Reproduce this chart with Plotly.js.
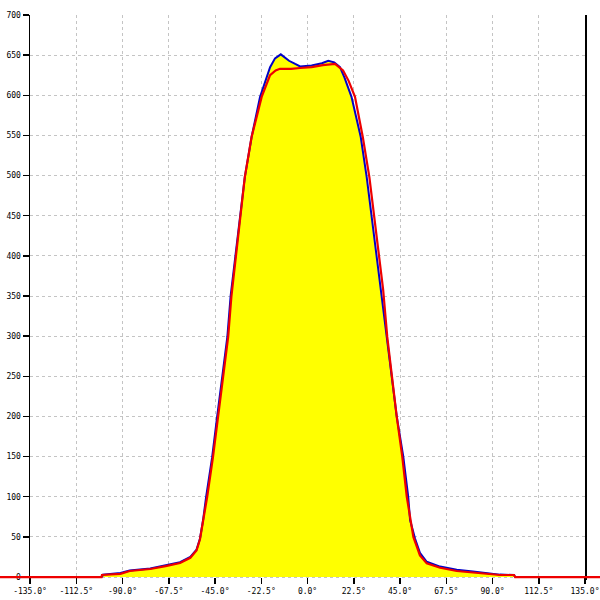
<!DOCTYPE html>
<html>
<head>
<meta charset="utf-8">
<script src="https://cdn.plot.ly/plotly-3.0.1.min.js"></script>
<style>html,body{margin:0;padding:0;background:#fff;}#chart{width:600px;height:600px;}</style>
</head>
<body>
<div id="chart"></div>
<script>
// Measured pattern (blue, filled yellow)
var angleBlue = [-100, -99.5, -91, -86.5, -76.5, -69, -62, -57, -54, -52.3, -50.8, -49.3, -46.4, -44, -41.4, -39, -37.4, -35, -32.8, -30.5, -27.2, -23.1, -18.2, -15.8, -13, -9, -6, -3.6, 2, 7, 10.1, 13, 15.8, 18, 21.4, 25.9, 28.8, 31.2, 33.7, 36, 38.6, 41, 43.4, 46.6, 49, 49.9, 52.3, 54.7, 58, 64.5, 72.6, 80.5, 88.8, 93.6, 100.5, 101];
var powerBlue = [0, 3, 5, 8, 10.5, 14.5, 18.5, 25, 34, 48, 71, 100, 149, 199, 249, 299, 350, 399, 449, 498, 548, 598, 635, 646, 651, 643, 639, 636, 637, 640, 643, 641, 635, 622, 598, 548, 498, 449, 399, 356, 299, 249, 200, 150, 100, 71, 48, 30, 19, 13, 9, 7, 5, 3, 2.5, 0];
// Reference pattern (red)
var angleRed = [-150, -100.2, -100, -91, -86.5, -76.5, -69, -62, -57, -54, -52.3, -50.8, -48.8, -46, -43.6, -41, -38.6, -37, -34.8, -32.7, -30.5, -27.2, -22.3, -18.2, -15.5, -13.4, -8, -3.6, 2, 7.5, 13.4, 17.3, 20, 23.1, 26.9, 30.1, 32.5, 34.9, 36.8, 38.8, 41, 43.4, 46.1, 48.3, 51.5, 54.7, 58, 64.5, 72.6, 80.5, 88.8, 93.6, 100.5, 101, 150];
var powerRed = [0, 0, 2.5, 4, 7.5, 10, 13.5, 17.5, 24, 33, 47, 70, 100, 149, 199, 249, 299, 350, 399, 449, 498, 548, 598, 625, 631, 633, 633, 634, 635, 637.6, 639, 631, 618, 598, 548, 498, 449, 399, 358, 299, 249, 200, 150, 100, 50, 27, 17, 11.5, 7.5, 5.5, 3.5, 2.5, 2.5, 0, 0];
// Axis ticks
var xTickVals = [-135, -112.5, -90, -67.5, -45, -22.5, 0, 22.5, 45, 67.5, 90, 112.5, 135];
var xTickText = ["-135.0°", "-112.5°", "-90.0°", "-67.5°", "-45.0°", "-22.5°", "0.0°", "22.5°", "45.0°", "67.5°", "90.0°", "112.5°", "135.0°"];
var yTickVals = [0, 50, 100, 150, 200, 250, 300, 350, 400, 450, 500, 550, 600, 650, 700];

var W = 600;
var xL = 30, xR = 585;          // pixel extent of main x axis
var k = (xR - xL) / 270;         // px per degree
var x2range = [-135 - xL / k, 135 + (W - xR) / k];

var tickFont = {family: "DejaVu Sans Mono, monospace", size: 8, color: "#000"};

var traces = [
  {
    x: angleBlue, y: powerBlue, xaxis: "x", yaxis: "y",
    type: "scatter", mode: "lines", fill: "tozeroy", fillcolor: "#ffff00",
    line: {color: "#0000c8", width: 2}, hoverinfo: "skip"
  },
  {
    x: angleRed, y: powerRed, xaxis: "x2", yaxis: "y2",
    type: "scatter", mode: "lines",
    line: {color: "#ee0000", width: 2.2}, hoverinfo: "skip"
  }
];

var yDomain = [1 - 580 / 600, 1 - 15 / 600];
var yRange = [-3.7, 700];

var layout = {
  width: 600, height: 600,
  margin: {l: 0, r: 0, t: 0, b: 0, pad: 0},
  paper_bgcolor: "#ffffff",
  plot_bgcolor: "rgba(0,0,0,0)",
  showlegend: false,
  xaxis: {
    domain: [xL / W, xR / W], range: [-135, 135],
    anchor: "free", position: 1 - 577 / 600,
    tickmode: "array", tickvals: xTickVals, ticktext: xTickText,
    ticks: "outside", ticklen: 6, tickwidth: 1.5, tickcolor: "#000",
    tickfont: tickFont, ticklabeloverflow: "allow",
    showline: false, zeroline: false,
    showgrid: true, gridcolor: "#c4c4c4", gridwidth: 1, griddash: "3px,3px"
  },
  yaxis: {
    domain: yDomain, range: yRange, anchor: "x",
    tickmode: "array", tickvals: yTickVals,
    ticks: "outside", ticklen: 6, tickwidth: 1.5, tickcolor: "#000",
    tickfont: tickFont, ticklabeloverflow: "allow",
    showline: true, linecolor: "#000", linewidth: 1.5, mirror: true,
    zeroline: false,
    showgrid: true, gridcolor: "#c4c4c4", gridwidth: 1, griddash: "3px,3px"
  },
  xaxis2: {
    domain: [0, 1], range: x2range, anchor: "y2",
    visible: false, showgrid: false, zeroline: false
  },
  yaxis2: {
    domain: yDomain, range: yRange, anchor: "x2",
    visible: false, showgrid: false, zeroline: false
  }
};

Plotly.newPlot("chart", traces, layout, {staticPlot: true, displayModeBar: false});
</script>
</body>
</html>
